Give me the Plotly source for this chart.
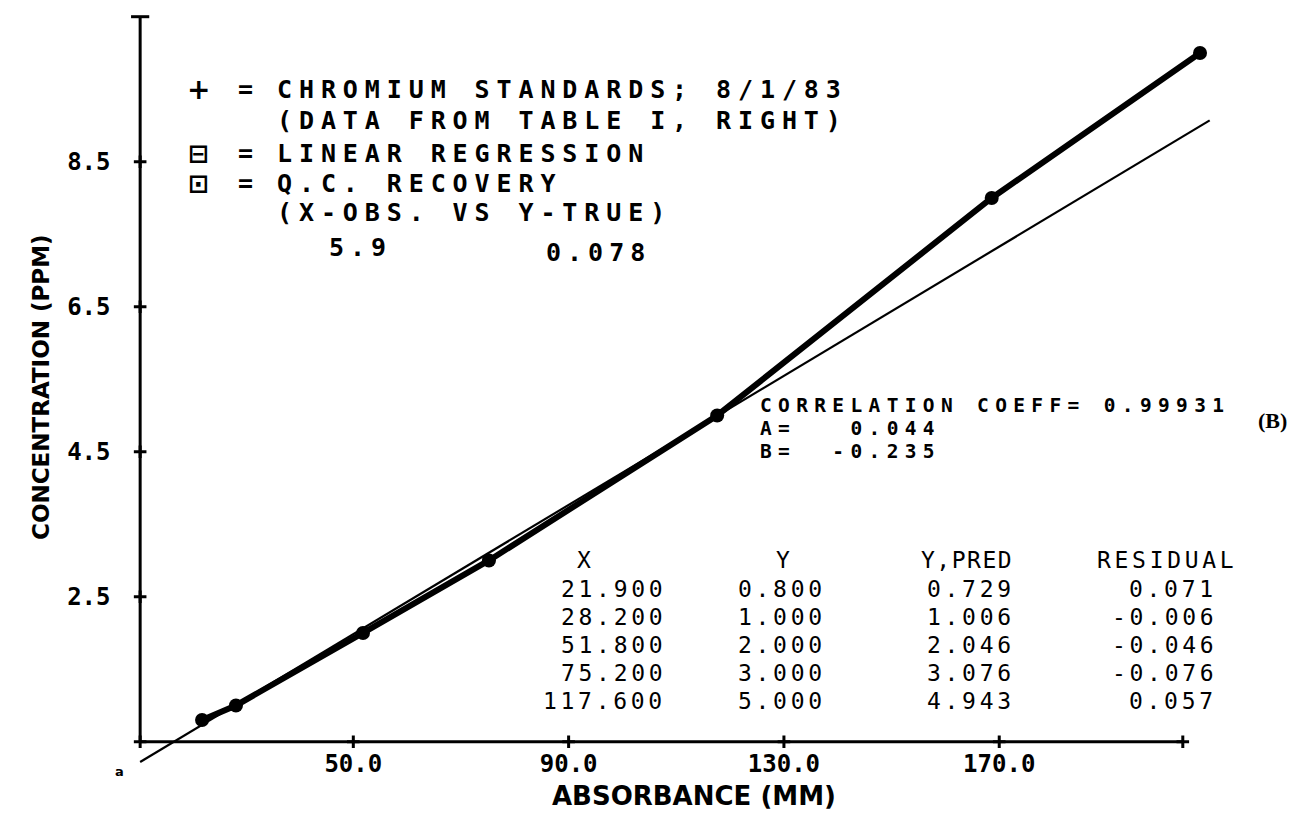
import plotly.graph_objects as go

# ---------------- data ----------------
STD_X = [21.9, 28.2, 51.8, 75.2, 117.6, 168.6, 207.3]
STD_Y = [0.8, 1.0, 2.0, 3.0, 5.0, 8.0, 10.0]
REG_X = [10.4, 209.1]
REG_Y = [0.22, 9.07]

X_TICKS = [50, 90, 130, 170]
X_TICK_TEXT = ["50.0", "90.0", "130.0", "170.0"]
Y_TICKS = [2.5, 4.5, 6.5, 8.5]
Y_TICK_TEXT = ["2.5", "4.5", "6.5", "8.5"]
AXIS_X = [10.4, 204.1]
AXIS_Y = [0.5, 10.5]

LEGEND_SYMBOLS = ["+", "", "\u229f", "\u22a1", ""]
LEGEND_TEXT = [
    "CHROMIUM STANDARDS; 8/1/83",
    "(DATA FROM TABLE I, RIGHT)",
    "LINEAR REGRESSION",
    "Q.C. RECOVERY",
    "(X-OBS. VS Y-TRUE)",
]
QC_VALUES = ["5.9", "0.078"]
STATS_LINES = ["CORRELATION COEFF= 0.99931", "A=   0.044", "B=  -0.235"]

TABLE_HEAD = ["X", "Y", "Y,PRED", "RESIDUAL"]
TABLE_X = [21.9, 28.2, 51.8, 75.2, 117.6]
TABLE_Y = [0.8, 1.0, 2.0, 3.0, 5.0]
TABLE_PRED = [0.729, 1.006, 2.046, 3.076, 4.943]
TABLE_RES = [0.071, -0.006, -0.046, -0.076, 0.057]

X_TITLE = "ABSORBANCE (MM)"
Y_TITLE = "CONCENTRATION (PPM)"
PANEL = "(B)"

# ---------------- layout geometry ----------------
OFF = 8                      # page body margin of the html page
W, H = 1297 - 2 * OFF, 819 - 2 * OFF
X_LO, X_HI = -14.15, 223.83
Y_LO, Y_HI = -0.456, 10.62
MONO = "DejaVu Sans Mono"


def px(x):
    return (x - OFF) / W


def py(y):
    return 1 - (y - OFF) / H


def spaced(s, ls):
    return f'<span style="letter-spacing:{ls}px">{s}</span>'


def note(x, y, text, font, xanchor="left", angle=0):
    return dict(x=px(x), y=py(y), xref="paper", yref="paper",
                xanchor=xanchor, yanchor="middle", showarrow=False,
                text=text, font=font, textangle=angle, borderpad=0)


fig = go.Figure()

# axis lines
fig.add_trace(go.Scatter(x=AXIS_X, y=[AXIS_Y[0]] * 2, mode="lines",
                         line=dict(color="black", width=3), hoverinfo="skip"))
fig.add_trace(go.Scatter(x=[AXIS_X[0]] * 2, y=AXIS_Y, mode="lines",
                         line=dict(color="black", width=3), hoverinfo="skip"))
# tick marks
fig.add_trace(go.Scatter(x=X_TICKS + AXIS_X, y=[AXIS_Y[0]] * (len(X_TICKS) + 2),
                         mode="markers", cliponaxis=False,
                         marker=dict(symbol="cross-thin", size=9, color="black",
                                     line=dict(color="black", width=3)),
                         hoverinfo="skip"))
fig.add_trace(go.Scatter(x=[AXIS_X[0]] * len(Y_TICKS), y=Y_TICKS,
                         mode="markers", cliponaxis=False,
                         marker=dict(symbol="cross-thin", size=9, color="black",
                                     line=dict(color="black", width=3)),
                         hoverinfo="skip"))
fig.add_trace(go.Scatter(x=[AXIS_X[0]], y=[AXIS_Y[1]], mode="markers",
                         marker=dict(symbol="line-ew", size=13, color="black",
                                     line=dict(color="black", width=3)),
                         hoverinfo="skip"))

# regression line (thin)
fig.add_trace(go.Scatter(x=REG_X, y=REG_Y, mode="lines",
                         line=dict(color="black", width=2.2), hoverinfo="skip"))
# standards (thick line + blobs)
fig.add_trace(go.Scatter(x=STD_X, y=STD_Y, mode="lines+markers",
                         line=dict(color="black", width=6),
                         marker=dict(symbol="circle", size=14, color="black"),
                         hoverinfo="skip"))

ann = []
# legend block
LEG_FS, LEG_LS = 25, 6.9
leg_font = dict(family=MONO, size=LEG_FS, color="black", weight="bold")
leg_y = [90, 120, 153, 183, 212]
for sym, s, ly in zip(LEGEND_SYMBOLS, LEGEND_TEXT, leg_y):
    if sym:
        ann.append(note(198, ly, sym,
                        dict(family="DejaVu Sans", size=28 if sym == "+" else 25,
                             color="black", weight="bold"),
                        xanchor="center"))
        ann.append(note(245, ly, "=",
                        dict(family=MONO, size=25, color="black", weight="bold"),
                        xanchor="center"))
    ann.append(note(276, ly, spaced(s, LEG_LS), leg_font))
for (cx, cy), s in zip([(358, 247), (595, 252)], QC_VALUES):
    ann.append(note(cx + 3, cy, spaced(s, 6), leg_font, xanchor="center"))

# statistics block
ST_FS, ST_LS = 19.5, 6.35
for s, sy in zip(STATS_LINES, [405, 428, 451]):
    ann.append(note(759, sy, spaced(s, ST_LS),
                    dict(family=MONO, size=ST_FS, color="black", weight="bold")))

# residual table
TB_FS, TB_LS = 23, 3.7
tb_font = dict(family=MONO, size=TB_FS, color="black")
row_y = [589, 617, 645, 673, 701]
head_y = 560
col_right = [663, 823, 1012, 1214]
head_specs = [(584, "center", TB_LS), (783, "center", TB_LS),
              (1012, "right", 1.5), (1096, "left", TB_LS)]
for (hx, anc, ls), s in zip(head_specs, TABLE_HEAD):
    shift = ls if anc == "right" else (ls / 2 if anc == "center" else 0)
    ann.append(note(hx + shift, head_y, spaced(s, ls), tb_font, xanchor=anc))
for col, vals in enumerate([TABLE_X, TABLE_Y, TABLE_PRED, TABLE_RES]):
    for v, ry in zip(vals, row_y):
        ann.append(note(col_right[col] + TB_LS, ry, spaced(f"{v:.3f}", TB_LS),
                        tb_font, xanchor="right"))

# axis titles and marks
ann.append(note(694, 796, X_TITLE,
                dict(family="DejaVu Sans", size=26, color="black", weight="bold"),
                xanchor="center"))
ann.append(note(41, 387, Y_TITLE,
                dict(family="DejaVu Sans", size=23, color="black", weight="bold"),
                xanchor="center", angle=-90))
ann.append(note(1272, 420, PANEL,
                dict(family="Liberation Serif", size=22, color="black", weight="bold"),
                xanchor="center"))
ann.append(note(119, 771, "a",
                dict(family="DejaVu Sans", size=13, color="black", weight="bold"),
                xanchor="center"))

fig.update_layout(
    width=W, height=H,
    margin=dict(l=0, r=0, t=0, b=0),
    paper_bgcolor="white", plot_bgcolor="white",
    showlegend=False,
    annotations=ann,
    xaxis=dict(range=[X_LO, X_HI], showgrid=False, zeroline=False, showline=False,
               tickvals=X_TICKS, ticktext=X_TICK_TEXT, ticks="",
               anchor="free", position=(OFF + H - 741.7) / H, ticklabelstandoff=5,
               automargin=False,
               tickfont=dict(family=MONO, size=24, color="black", weight="bold")),
    yaxis=dict(range=[Y_LO, Y_HI], showgrid=False, zeroline=False, showline=False,
               tickvals=Y_TICKS, ticktext=Y_TICK_TEXT, ticks="",
               anchor="free", position=(140.5 - OFF) / W, ticklabelstandoff=30,
               automargin=False,
               tickfont=dict(family=MONO, size=24, color="black", weight="bold")),
)

fig.write_html("out.html")
